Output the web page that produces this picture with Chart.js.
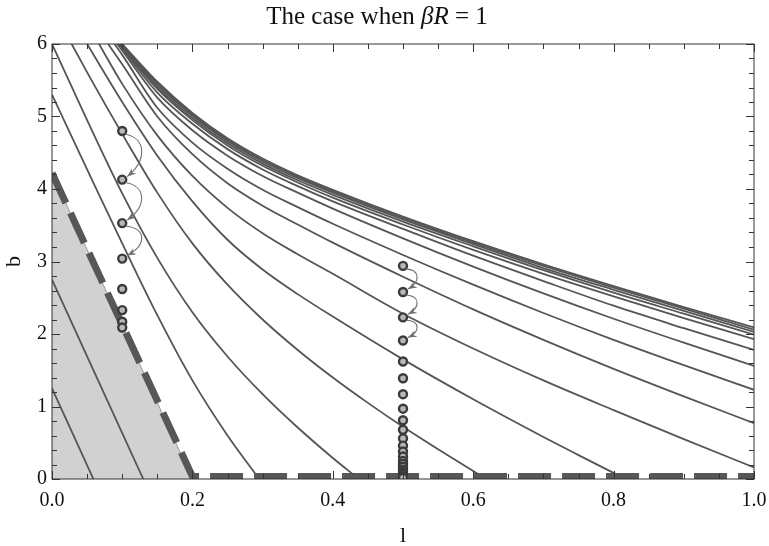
<!DOCTYPE html>
<html>
<head>
<meta charset="utf-8">
<script src="https://cdn.jsdelivr.net/npm/chart.js@4.4.1/dist/chart.umd.min.js"></script>
<style>
  html, body { margin: 0; padding: 0; background: #fff; }
</style>
</head>
<body>
<canvas id="chart" width="769" height="546"></canvas>
<script>
// level curves (l, b)
const lS1 = [0, 0.059], bS1 = [1.25, 0];
const lS2 = [0, 0.130], bS2 = [2.75, 0];

const lC1 = [0, 0.05, 0.1, 0.15, 0.2, 0.25, 0.292];
const bC1 = [5.3, 4.27, 3.25, 2.26, 1.36, 0.6, 0.04];
const lC2 = [0, 0.05, 0.1, 0.15, 0.2, 0.25, 0.3, 0.35, 0.4, 0.432];
const bC2 = [6.0, 4.95, 3.94, 3.05, 2.30, 1.69, 1.17, 0.71, 0.29, 0.04];
const lC3 = [0.028, 0.054, 0.1, 0.15, 0.2, 0.25, 0.3, 0.35, 0.4, 0.45, 0.5, 0.55, 0.612];
const bC3 = [6.0, 5.54, 4.76, 3.95, 3.25, 2.68, 2.20, 1.78, 1.40, 1.05, 0.72, 0.41, 0.04];
const lC4 = [0.05, 0.1, 0.15, 0.2, 0.25, 0.3, 0.35, 0.4, 0.5, 0.6, 0.7, 0.75, 0.809];
const bC4 = [6.0, 5.2, 4.46, 3.83, 3.30, 2.89, 2.55, 2.24, 1.65, 1.10, 0.58, 0.33, 0.04];

// upper curves share one grid of l after their start on the top edge
const lGrid = [0.15, 0.2, 0.25, 0.3, 0.35, 0.4, 0.5, 0.6, 0.7, 0.8, 0.9, 1.0];
const lC5 = [0.067, 0.1].concat(lGrid);
const bC5 = [6.0, 5.45, 4.74, 4.18, 3.74, 3.39, 3.10, 2.83, 2.28, 1.80, 1.36, 0.95, 0.55, 0.16];
const lC6 = [0.080, 0.1].concat(lGrid);
const bC6 = [6.0, 5.72, 5.0, 4.48, 4.08, 3.77, 3.51, 3.26, 2.79, 2.34, 1.92, 1.52, 1.14, 0.77];
const lC7 = [0.089, 0.1].concat(lGrid);
const bC7 = [6.0, 5.85, 5.12, 4.64, 4.28, 3.99, 3.75, 3.52, 3.09, 2.68, 2.29, 1.92, 1.57, 1.23];
const lC8 = [0.093, 0.1].concat(lGrid);
const bC8 = [6.0, 5.91, 5.26, 4.81, 4.46, 4.18, 3.95, 3.73, 3.32, 2.93, 2.56, 2.21, 1.88, 1.56];
const lC9 = [0.095].concat(lGrid);
const bC9 = [6.0, 5.33, 4.90, 4.55, 4.27, 4.04, 3.83, 3.45, 3.08, 2.73, 2.39, 2.08, 1.78];
const lC10 = [0.096].concat(lGrid);
const bC10 = [6.0, 5.38, 4.95, 4.60, 4.32, 4.09, 3.88, 3.51, 3.16, 2.83, 2.52, 2.22, 1.93];
const lC11 = [0.097].concat(lGrid);
const bC11 = [6.0, 5.41, 4.98, 4.63, 4.35, 4.12, 3.92, 3.55, 3.21, 2.88, 2.57, 2.28, 1.99];
const lC12 = [0.098].concat(lGrid);
const bC12 = [6.0, 5.44, 5.01, 4.66, 4.38, 4.15, 3.95, 3.58, 3.24, 2.91, 2.61, 2.32, 2.03];
const lC13 = [0.099].concat(lGrid);
const bC13 = [6.0, 5.46, 5.03, 4.68, 4.40, 4.17, 3.97, 3.60, 3.26, 2.94, 2.64, 2.35, 2.06];
const lC14 = [0.100].concat(lGrid);
const bC14 = [6.0, 5.48, 5.05, 4.70, 4.42, 4.19, 3.99, 3.62, 3.28, 2.96, 2.66, 2.37, 2.09];

// shaded region and its dashed edge
const shadeL = [0, 0.2], shadeB = [4.22, 0];
const edgeL = [0, 0.2, 1.0], edgeB = [4.22, 0.035, 0.035];

// iterates at l = 0.1 and l = 0.5
const col1L = [0.1, 0.1, 0.1, 0.1, 0.1, 0.1, 0.1, 0.1];
const col1B = [4.80, 4.13, 3.53, 3.04, 2.62, 2.33, 2.17, 2.09];
const col2L = [0.5, 0.5, 0.5, 0.5, 0.5, 0.5, 0.5, 0.5, 0.5, 0.5, 0.5, 0.5, 0.5, 0.5, 0.5, 0.5, 0.5, 0.5, 0.5, 0.5, 0.5, 0.5];
const col2B = [2.94, 2.58, 2.23, 1.91, 1.62, 1.39, 1.17, 0.97, 0.81, 0.68, 0.56, 0.46, 0.38, 0.31, 0.25, 0.21, 0.17, 0.13, 0.10, 0.07, 0.04, 0.015];

const xTicks = [0, 0.2, 0.4, 0.6, 0.8, 1.0];
const yTicks = [0, 1, 2, 3, 4, 5, 6];

const SERIF = "'Liberation Serif', 'DejaVu Serif', serif";
const pts = (ls, bs) => ls.map((l, i) => ({ x: l, y: bs[i] }));

const curves = [
    [lS1, bS1], [lS2, bS2],
    [lC1, bC1], [lC2, bC2], [lC3, bC3], [lC4, bC4], [lC5, bC5], [lC6, bC6], [lC7, bC7],
    [lC8, bC8], [lC9, bC9], [lC10, bC10], [lC11, bC11], [lC12, bC12], [lC13, bC13], [lC14, bC14]
];

const datasets = [];

datasets.push({
    data: pts(col1L, col1B), showLine: false, order: 0, clip: 0,
    pointRadius: 4, pointBorderWidth: 2.4, pointBorderColor: '#3a3a3a', pointBackgroundColor: '#b8b8b8'
});
datasets.push({
    data: pts(col2L, col2B), showLine: false, order: 0, clip: 0,
    pointRadius: 4, pointBorderWidth: 2.4, pointBorderColor: '#3a3a3a', pointBackgroundColor: '#b8b8b8'
});
datasets.push({
    data: pts(edgeL, edgeB), order: 1, clip: 0, tension: 0,
    borderColor: '#575757', borderWidth: 7, borderDash: [33, 11], borderCapStyle: 'butt',
    pointRadius: 0, fill: false
});
curves.forEach(([ls, bs]) => {
    datasets.push({
        data: pts(ls, bs), order: 2, clip: 0,
        borderColor: '#555555', borderWidth: 1.8, pointRadius: 0, fill: false,
        cubicInterpolationMode: 'monotone'
    });
});
datasets.push({
    data: pts(shadeL, shadeB), order: 4, clip: 0, tension: 0,
    fill: 'origin', backgroundColor: '#d1d1d1', borderColor: '#9b9b9b', borderWidth: 1, pointRadius: 0
});

// title with the italic βR, centred as in the picture
const mixedTitle = {
    id: 'mixedTitle',
    afterDraw(chart) {
        const { ctx } = chart;
        const parts = [['The case when ', ''], ['βR', 'italic '], [' = 1', '']];
        ctx.save();
        ctx.fillStyle = '#111';
        ctx.textBaseline = 'middle';
        let total = 0;
        parts.forEach(([t, s]) => { ctx.font = s + '25px ' + SERIF; total += ctx.measureText(t).width; });
        let x = (chart.chartArea.left + chart.chartArea.right) / 2 - 26 - total / 2;
        parts.forEach(([t, s]) => {
            ctx.font = s + '25px ' + SERIF;
            ctx.fillText(t, x, 17);
            x += ctx.measureText(t).width;
        });
        ctx.restore();
    }
};

// inward ticks on all four sides, plus the frame
const frameTicks = {
    id: 'frameTicks',
    afterDatasetsDraw(chart) {
        const { ctx, chartArea: a, scales: { x, y } } = chart;
        ctx.save();
        ctx.strokeStyle = '#333';
        ctx.lineWidth = 1;
        ctx.strokeRect(a.left, a.top, a.right - a.left, a.bottom - a.top);
        ctx.beginPath();
        for (let i = 0; i <= 20; i++) {
            const px = Math.round(x.getPixelForValue(i * 0.05)) + 0.5;
            const len = i % 4 === 0 ? 8 : 5;
            ctx.moveTo(px, a.bottom); ctx.lineTo(px, a.bottom - len);
            ctx.moveTo(px, a.top); ctx.lineTo(px, a.top + len);
        }
        for (let i = 0; i <= 30; i++) {
            const py = Math.round(y.getPixelForValue(i * 0.2)) + 0.5;
            const len = i % 5 === 0 ? 8 : 5;
            ctx.moveTo(a.left, py); ctx.lineTo(a.left + len, py);
            ctx.moveTo(a.right, py); ctx.lineTo(a.right - len, py);
        }
        ctx.stroke();
        ctx.restore();
    }
};

// curved arrows between the first iterates of each column
const iterArrows = {
    id: 'iterArrows',
    afterDatasetsDraw(chart) {
        const { ctx } = chart;
        ctx.save();
        ctx.strokeStyle = '#707070';
        ctx.fillStyle = '#707070';
        ctx.lineWidth = 1.1;
        [[0, 24], [1, 17]].forEach(([idx, bulge]) => {
            const els = chart.getDatasetMeta(idx).data;
            for (let i = 0; i < 3; i++) {
                const p = els[i], q = els[i + 1];
                const d = q.y - p.y;
                const sx = p.x + 3, sy = p.y + 3;
                const c1x = p.x + bulge, c1y = p.y + d * 0.15;
                const c2x = p.x + bulge * 1.05, c2y = p.y + d * 0.6;
                const ex = q.x + 5, ey = q.y - 3;
                ctx.beginPath();
                ctx.moveTo(sx, sy);
                ctx.bezierCurveTo(c1x, c1y, c2x, c2y, ex, ey);
                ctx.stroke();
                const ang = Math.atan2(ey - c2y, ex - c2x);
                ctx.beginPath();
                ctx.moveTo(ex, ey);
                ctx.lineTo(ex - 9 * Math.cos(ang) + 3.5 * Math.sin(ang), ey - 9 * Math.sin(ang) - 3.5 * Math.cos(ang));
                ctx.lineTo(ex - 6 * Math.cos(ang), ey - 6 * Math.sin(ang));
                ctx.lineTo(ex - 9 * Math.cos(ang) - 3.5 * Math.sin(ang), ey - 9 * Math.sin(ang) + 3.5 * Math.cos(ang));
                ctx.closePath();
                ctx.fill();
            }
        });
        ctx.restore();
    }
};

new Chart(document.getElementById('chart'), {
    type: 'line',
    data: { datasets },
    options: {
        responsive: false,
        animation: false,
        events: [],
        layout: { padding: { top: 44, right: 15 } },
        plugins: {
            legend: { display: false },
            tooltip: { enabled: false },
            title: { display: false }
        },
        scales: {
            x: {
                type: 'linear', min: 0, max: 1,
                afterFit: s => { s.height = 67; s.paddingLeft = 0; s.paddingRight = 0; },
                afterBuildTicks: s => { s.ticks = xTicks.map(v => ({ value: v })); },
                ticks: {
                    callback: v => v.toFixed(1),
                    font: { family: SERIF, size: 20 }, color: '#111', padding: 10, maxRotation: 0
                },
                grid: { display: false, drawTicks: false },
                border: { display: false },
                title: {
                    display: true, text: 'l', color: '#111',
                    font: { family: SERIF, size: 22, lineHeight: 0.9 },
                    padding: { top: 0, bottom: 0 }
                }
            },
            y: {
                type: 'linear', min: 0, max: 6,
                afterFit: s => { s.width = 52; s.paddingTop = 0; s.paddingBottom = 0; },
                afterBuildTicks: s => { s.ticks = yTicks.map(v => ({ value: v })); },
                ticks: { font: { family: SERIF, size: 20 }, color: '#111', padding: 5 },
                grid: { display: false, drawTicks: false },
                border: { display: false },
                title: {
                    display: true, text: 'b', color: '#111',
                    font: { family: SERIF, size: 22, lineHeight: 1.2 },
                    padding: { top: 1, bottom: 0 }
                }
            }
        }
    },
    plugins: [frameTicks, iterArrows, mixedTitle]
});
</script>
</body>
</html>
